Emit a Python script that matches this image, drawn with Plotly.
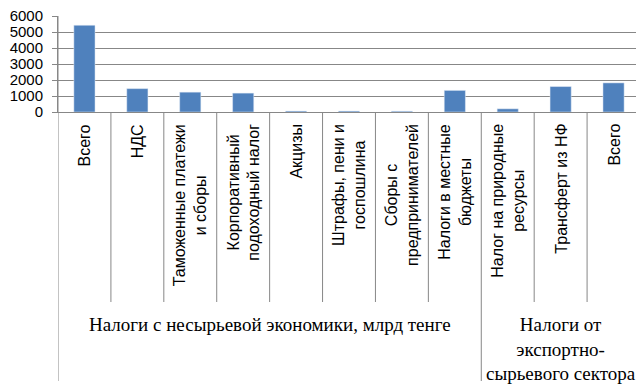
import plotly.graph_objects as go

# ---------------- data ----------------
categories = [
    "Всего",
    "НДС",
    "Таможенные платежи<br>и сборы",
    "Корпоративный<br>подоходный налог",
    "Акцизы",
    "Штрафы, пени и<br>госпошлина",
    "Сборы с<br>предпринимателей",
    "Налоги в местные<br>бюджеты",
    "Налог на природные<br>ресурсы",
    "Трансферт из НФ",
    "Всего",
]
values = [5420, 1460, 1240, 1180, 60, 60, 50, 1350, 200, 1590, 1820]
groups = [
    "Налоги с несырьевой экономики, млрд тенге",
    "Налоги от<br>экспортно-<br>сырьевого сектора",
]
group_sizes = [8, 3]
y_ticks = [0, 1000, 2000, 3000, 4000, 5000, 6000]

# ---------------- layout helpers ----------------
# the page body has an 8px default margin, so the figure is sized/shifted
OFF = 8
SCREEN_W, SCREEN_H = 644, 386
W, H = SCREEN_W - OFF, SCREEN_H - OFF
PLOT_L, PLOT_R, PLOT_T, PLOT_B = 58, 640, 16, 112   # screen pixels
ML = PLOT_L - OFF
MT = PLOT_T - OFF
MR = W - (PLOT_R - OFF)
MB = H - (PLOT_B - OFF)
PLOT_H = PLOT_B - PLOT_T


def py(pix):
    """screen pixel y (from top) -> paper coordinate"""
    return (PLOT_B - pix) / PLOT_H


GRID = "#878787"
BAR = "#4F81BD"
x = list(range(len(values)))

fig = go.Figure(
    go.Bar(x=x, y=values, marker_color=BAR, width=0.4, hoverinfo="skip")
)

shapes = []
annotations = []

# group boundaries
bounds = [-0.5]
for s in group_sizes:
    bounds.append(bounds[-1] + s)

for i in range(1, len(values)):
    b = i - 0.5
    if b in bounds:
        continue
    shapes.append(dict(type="line", xref="x", yref="paper", x0=b, x1=b,
                       y0=0, y1=py(302), line=dict(color=GRID, width=1)))
for b in bounds:
    shapes.append(dict(type="line", xref="x", yref="paper", x0=b, x1=b,
                       y0=0 if b != bounds[0] else 1, y1=py(381),
                       line=dict(color=GRID, width=1)))

for i, c in enumerate(categories):
    annotations.append(dict(
        x=i, y=py(122), xref="x", yref="paper", text=c, showarrow=False,
        textangle=-90, xanchor="center", yanchor="top", align="center",
        font=dict(family="Liberation Sans, Arial", size=16, color="black")))

for gi, g in enumerate(groups):
    cx = (bounds[gi] + bounds[gi + 1]) / 2
    annotations.append(dict(
        x=cx, y=py(312), xref="x", yref="paper", text=g, showarrow=False,
        xanchor="center", yanchor="top", align="center",
        font=dict(family="Liberation Sans Narrow, Arial Narrow", size=19,
                  color="black")))

fig.update_layout(
    width=W, height=H,
    margin=dict(l=ML, r=MR, t=MT, b=MB, pad=0, autoexpand=False),
    paper_bgcolor="white", plot_bgcolor="white",
    showlegend=False,
    shapes=shapes, annotations=annotations,
    xaxis=dict(range=[-0.5, len(values) - 0.5], showticklabels=False,
               showgrid=False, zeroline=False, showline=True,
               linecolor=GRID, linewidth=1, fixedrange=True,
               automargin=False),
    yaxis=dict(range=[0, 6000], tickvals=y_ticks,
               ticktext=[str(v) for v in y_ticks],
               showgrid=True, gridcolor=GRID, gridwidth=1, zeroline=False,
               showline=True, linecolor=GRID, linewidth=1,
               ticks="outside", ticklen=5, tickcolor=GRID,
               ticklabelstandoff=6, ticklabeloverflow="allow",
               automargin=False,
               tickfont=dict(family="Liberation Sans, Arial", size=15,
                             color="black"), fixedrange=True),
)

fig.write_html("out.html")
